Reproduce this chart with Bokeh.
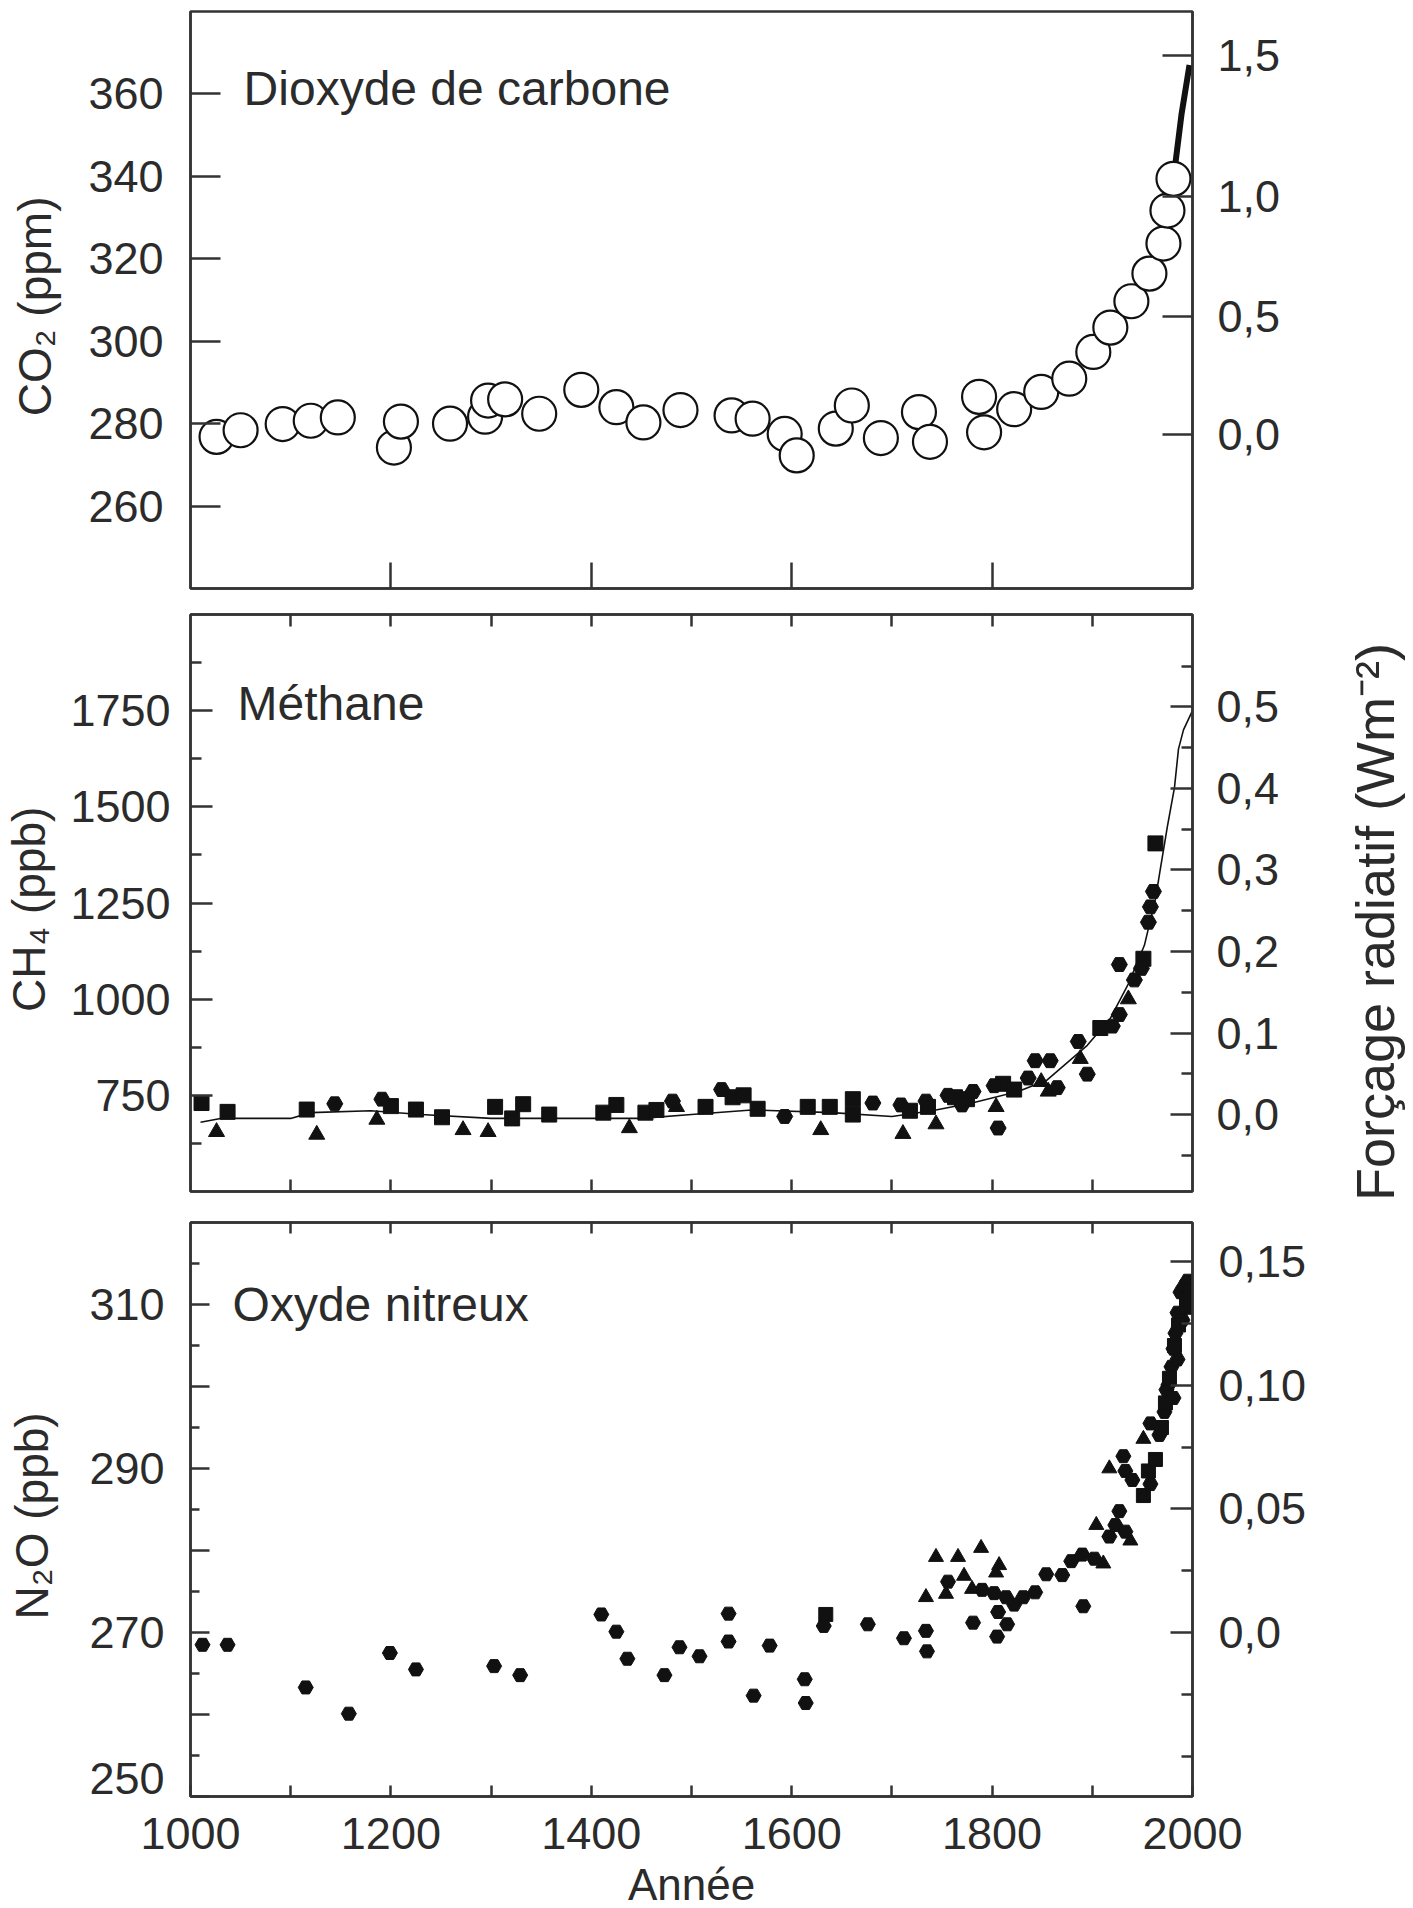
import numpy as np
from bokeh.plotting import figure
from bokeh.models import LinearAxis, Range1d, FixedTicker, Label, CustomJSTickFormatter
from bokeh.layouts import column, row
from bokeh.embed import file_html
from bokeh.resources import INLINE

# ---------------- data ----------------
co2_year = [1026, 1050, 1092, 1120, 1147, 1203, 1210, 1259, 1294, 1297, 1314, 1348, 1390,
            1425, 1452, 1489, 1540, 1561, 1593, 1605, 1644, 1660, 1689, 1727, 1738, 1787,
            1792, 1822, 1849, 1877, 1901, 1918, 1939, 1957, 1971, 1975, 1981]
co2_ppm = [276.8, 278.4, 279.9, 280.7, 281.5, 274.2, 280.5, 280.0, 281.7, 285.6, 285.9, 282.4,
           288.2, 284.0, 280.3, 283.3, 282.0, 281.2, 277.5, 272.3, 278.8, 284.4, 276.5, 282.8,
           275.6, 286.5, 277.9, 283.5, 287.7, 290.9, 297.4, 303.3, 309.7, 316.4, 323.7, 331.7,
           339.4]
mauna_year = [1981, 1989, 1997]
mauna_ppm = [339.4, 355.0, 367.0]

co2_forcing_labels = ["0,0", "0,5", "1,0", "1,5"]
co2_forcing_at_ppm = [277.3, 306.0, 335.0, 369.4]

ch4_sq_year = [1011, 1037, 1116, 1200, 1225, 1251, 1304, 1321, 1332, 1358, 1412, 1425, 1454,
               1465, 1514, 1541, 1552, 1566, 1616, 1638, 1661, 1661, 1718, 1736, 1763, 1775,
               1811, 1822, 1908, 1951, 1963]
ch4_sq_ppb = [730, 707, 713, 722, 713, 693, 720, 690, 727, 700, 705, 725, 705, 712, 720, 745,
              750, 715, 720, 720, 740, 700, 710, 720, 745, 740, 780, 765, 925, 1105, 1405]
ch4_tri_year = [1026, 1126, 1186, 1272, 1297, 1438, 1485, 1629, 1711, 1744, 1804, 1849, 1856,
                1888, 1936]
ch4_tri_ppb = [655, 648, 687, 660, 655, 665, 720, 660, 650, 675, 720, 785, 760, 845, 1000]
ch4_dot_year = [1144, 1191, 1481, 1530, 1593, 1681, 1709, 1734, 1756, 1770, 1781, 1802, 1806,
                1836, 1843, 1858, 1865, 1886, 1895, 1920, 1927, 1927, 1942, 1949, 1956, 1958,
                1961]
ch4_dot_ppb = [728, 740, 735, 765, 695, 730, 725, 735, 750, 725, 760, 775, 665, 795, 840, 840,
               770, 890, 805, 930, 960, 1090, 1050, 1080, 1200, 1240, 1280]
ch4_fit_year = [1010, 1030, 1100, 1120, 1180, 1230, 1300, 1450, 1500, 1560, 1640, 1700, 1740,
                1780, 1826, 1855, 1895, 1918, 1936, 1952, 1963, 1968, 1975, 1982, 1986, 1991,
                2000]
ch4_fit_ppb = [680, 690, 690, 705, 710, 700, 690, 690, 700, 712, 705, 695, 710, 730, 760, 790,
               880, 950, 1040, 1140, 1260, 1340, 1450, 1550, 1650, 1700, 1750]
ch4_forcing_ticks = [0.0, 0.1, 0.2, 0.3, 0.4, 0.5]
ch4_forcing_minor = [-0.05, 0.05, 0.15, 0.25, 0.35, 0.45, 0.55]

n2o_dot_year = [1012, 1037, 1115, 1158, 1199, 1225, 1303, 1329, 1410, 1425, 1436, 1473, 1488,
                1508, 1537, 1537, 1562, 1578, 1613, 1614, 1632, 1676, 1712, 1734, 1735, 1756,
                1781, 1790, 1802, 1806, 1805, 1815, 1814, 1822, 1831, 1843, 1854, 1870, 1879,
                1890, 1891, 1902, 1917, 1923, 1927, 1933, 1931, 1933, 1940, 1958, 1958, 1967,
                1972, 1974, 1976, 1979, 1981, 1981, 1983, 1985, 1985, 1988, 1990, 1992, 1995,
                1997, 1997]
n2o_dot_ppb = [268.5, 268.5, 263.3, 260.1, 267.5, 265.5, 265.9, 264.8, 272.2, 270.1, 266.8,
               264.8, 268.2, 267.1, 272.3, 268.9, 262.3, 268.4, 264.3, 261.4, 270.8, 271.0,
               269.3, 270.2, 267.7, 276.2, 271.2, 275.2, 274.8, 272.5, 269.5, 271.0, 274.3,
               273.4, 274.3, 274.9, 277.1, 277.0, 278.7, 279.5, 273.2, 279.0, 281.7, 283.1,
               284.8, 282.3, 291.5, 289.7, 288.6, 288.1, 295.5, 294.1, 296.9, 299.6, 300.2,
               302.4, 304.6, 298.6, 306.5, 303.3, 309.0, 311.5, 308.1, 312.3, 312.9, 311.7,
               309.6]
n2o_sq_year = [1634, 1951, 1956, 1963, 1969, 1973, 1977, 1982, 1986, 1994]
n2o_sq_ppb = [272.2, 286.7, 289.7, 291.1, 295.0, 298.0, 301.0, 305.0, 307.5, 310.5]
n2o_tri_year = [1734, 1744, 1754, 1766, 1772, 1780, 1789, 1804, 1807, 1904, 1911, 1917, 1938,
                1951]
n2o_tri_ppb = [274.3, 279.2, 274.7, 279.2, 276.9, 275.3, 280.3, 277.3, 278.2, 283.1, 278.4,
               290.0, 281.2, 293.6]
n2o_label_ticks = [252.2, 270, 290, 310]   # the "250" label sits just above the frame corner
n2o_forcing_ticks = [0.0, 0.05, 0.10, 0.15]
n2o_forcing_minor = [-0.05, -0.025, 0.025, 0.075, 0.125]

# ---------------- style ----------------
FONT = "Liberation Sans"
TXT = "#2b2b2b"
INK = "#111111"
FRAME = "#333333"
TICK_FS = "45px"


def style_axis(ax, tick_in, minor_in=0, labels=True, standoff=20):
    ax.axis_line_color = FRAME
    ax.axis_line_width = 2.5
    ax.major_tick_line_color = FRAME
    ax.major_tick_line_width = 2.5
    ax.minor_tick_line_color = FRAME
    ax.minor_tick_line_width = 2.5
    ax.major_tick_out = 0
    ax.minor_tick_out = 0
    ax.major_tick_in = tick_in
    ax.minor_tick_in = minor_in
    ax.major_label_text_font = FONT
    ax.major_label_text_color = TXT
    ax.major_label_standoff = standoff
    ax.major_label_text_font_size = TICK_FS
    if not labels:
        ax.major_label_text_font_size = "1px"
        ax.major_label_text_color = None
        ax.major_label_standoff = 0
    ax.axis_label_text_font = FONT
    ax.axis_label_text_font_size = "46px"
    ax.axis_label_text_font_style = "normal"
    ax.axis_label_text_color = TXT


def make_fig(ylo, yhi, frame_h, top, bottom, right=215):
    p = figure(frame_width=1002, frame_height=frame_h,
               x_range=Range1d(1000, 2000), y_range=Range1d(ylo, yhi),
               output_backend="svg", toolbar_location=None,
               min_border_left=190, min_border_right=right,
               min_border_top=top, min_border_bottom=bottom,
               x_axis_location=None, y_axis_location=None)
    p.xgrid.visible = False
    p.ygrid.visible = False
    p.outline_line_color = FRAME
    p.outline_line_width = 2.5
    p.background_fill_color = "white"
    p.border_fill_color = "white"
    return p


def title(p, x, y, text):
    p.add_layout(Label(x=x, y=y, text=text, text_font=FONT, text_font_size="48px",
                       text_color=TXT, text_align="left", text_baseline="alphabetic"))


# ---------------- panel 1 : CO2 ----------------
p1 = make_fig(240, 380, 577, 11, 12)
ax = LinearAxis(ticker=FixedTicker(ticks=[1200, 1400, 1600, 1800], minor_ticks=[]))
style_axis(ax, 26, labels=False)
p1.add_layout(ax, "below")
ax = LinearAxis(ticker=FixedTicker(ticks=[260, 280, 300, 320, 340, 360], minor_ticks=[]),
                axis_label="CO₂  (ppm)")
style_axis(ax, 30, standoff=27)
ax.axis_label_standoff = 24
p1.add_layout(ax, "left")
ax = LinearAxis(ticker=FixedTicker(ticks=co2_forcing_at_ppm, minor_ticks=[]),
                formatter=CustomJSTickFormatter(
                    args=dict(pos=co2_forcing_at_ppm, lab=co2_forcing_labels),
                    code="let k=0; for (let i=0;i<pos.length;i++){ if (Math.abs(pos[i]-tick) < Math.abs(pos[k]-tick)) k=i; } return lab[k];"))
style_axis(ax, 30, standoff=25)
p1.add_layout(ax, "right")

p1.line(mauna_year, mauna_ppm, line_color=INK, line_width=6)
p1.scatter(co2_year, co2_ppm, marker="circle", size=34, fill_color="white",
           line_color=INK, line_width=2.2)
title(p1, 1053, 361.2, "Dioxyde de carbone")

# ---------------- panel 2 : CH4 ----------------
p2 = make_fig(500, 2000, 577, 14, 21, right=120)
hundreds = list(range(1100, 2000, 100))
for loc in ("below", "above"):
    ax = LinearAxis(ticker=FixedTicker(ticks=hundreds, minor_ticks=[]))
    style_axis(ax, 12, labels=False)
    p2.add_layout(ax, loc)
ax = LinearAxis(ticker=FixedTicker(ticks=[750, 1000, 1250, 1500, 1750],
                                   minor_ticks=[625, 875, 1125, 1375, 1625, 1875]),
                axis_label="CH₄  (ppb)")
style_axis(ax, 22, 11, standoff=20)
ax.axis_label_standoff = 12
p2.add_layout(ax, "left")
p2.extra_y_ranges = {"f": Range1d((500 - 700) / 2120, (2000 - 700) / 2120)}
ax = LinearAxis(y_range_name="f",
                ticker=FixedTicker(ticks=ch4_forcing_ticks, minor_ticks=ch4_forcing_minor),
                formatter=CustomJSTickFormatter(code="return tick.toFixed(1).replace('.', ',');"))
style_axis(ax, 22, 11, standoff=24)
p2.add_layout(ax, "right")

p2.line(ch4_fit_year, ch4_fit_ppb, line_color=INK, line_width=1.6)
p2.scatter(ch4_sq_year, ch4_sq_ppb, marker="square", size=15, fill_color=INK, line_color=INK)
p2.scatter(ch4_tri_year, ch4_tri_ppb, marker="triangle", size=16, fill_color=INK, line_color=INK)
p2.scatter(ch4_dot_year, ch4_dot_ppb, marker="hex", size=16, fill_color=INK, line_color=INK)
title(p2, 1047, 1768, "Méthane")

# shared right-hand label ("Forçage radiatif") in its own strip beside the methane panel
pf = figure(frame_width=100, frame_height=612, x_range=Range1d(0, 100), y_range=Range1d(0, 612),
            output_backend="svg", toolbar_location=None, min_border_left=0, min_border_right=0,
            min_border_top=0, min_border_bottom=0, x_axis_location=None, y_axis_location=None)
pf.xgrid.visible = False
pf.ygrid.visible = False
pf.outline_line_color = None
pf.add_layout(Label(x=62, y=312, text="Forçage radiatif  (Wm⁻²)", angle=np.pi / 2,
                    text_font=FONT, text_font_size="54px", text_color=TXT,
                    text_align="center", text_baseline="middle"))

# ---------------- panel 3 : N2O ----------------
p3 = make_fig(250, 320, 574, 10, 60)
ax = LinearAxis(ticker=FixedTicker(ticks=list(range(1100, 2000, 100)), minor_ticks=[]))
style_axis(ax, 11, labels=False)
p3.add_layout(ax, "above")
ax = LinearAxis(ticker=FixedTicker(ticks=list(range(1000, 2001, 200)),
                                   minor_ticks=list(range(1100, 2000, 200))),
                axis_label="Année")
style_axis(ax, 11, 11, standoff=21)
ax.axis_label_standoff = 8
ax.axis_label_text_font_size = "44px"
p3.add_layout(ax, "below")
# left: ticks-only axis at the frame, then a labels-only axis
ax = LinearAxis(ticker=FixedTicker(ticks=list(range(250, 311, 10)),
                                   minor_ticks=list(range(255, 320, 10))))
style_axis(ax, 19, 9, labels=False)
p3.add_layout(ax, "left")
ax = LinearAxis(ticker=FixedTicker(ticks=n2o_label_ticks, minor_ticks=[]),
                formatter=CustomJSTickFormatter(code="return String(Math.round(tick / 10) * 10);"),
                axis_label="N₂O  (ppb)")
style_axis(ax, 0, 0, standoff=26)
ax.axis_line_color = None
ax.major_tick_line_color = None
ax.axis_label_standoff = 28
p3.add_layout(ax, "left")
p3.extra_y_ranges = {"f": Range1d((250 - 270) / 301.4, (320 - 270) / 301.4)}
ax = LinearAxis(y_range_name="f",
                ticker=FixedTicker(ticks=n2o_forcing_ticks, minor_ticks=n2o_forcing_minor),
                formatter=CustomJSTickFormatter(
                    code="if (Math.abs(tick) < 1e-9) return '0,0'; return tick.toFixed(2).replace('.', ',');"))
style_axis(ax, 22, 11, standoff=26)
p3.add_layout(ax, "right")

p3.scatter(n2o_dot_year, n2o_dot_ppb, marker="hex", size=15, fill_color=INK, line_color=INK)
p3.scatter(n2o_tri_year, n2o_tri_ppb, marker="triangle", size=15, fill_color=INK, line_color=INK)
p3.scatter(n2o_sq_year, n2o_sq_ppb, marker="square", size=14, fill_color=INK, line_color=INK)
title(p3, 1042, 310, "Oxyde nitreux")

layout = column(p1, row(p2, pf, spacing=0), p3, spacing=0)
open("out.html", "w").write(file_html(layout, INLINE))
